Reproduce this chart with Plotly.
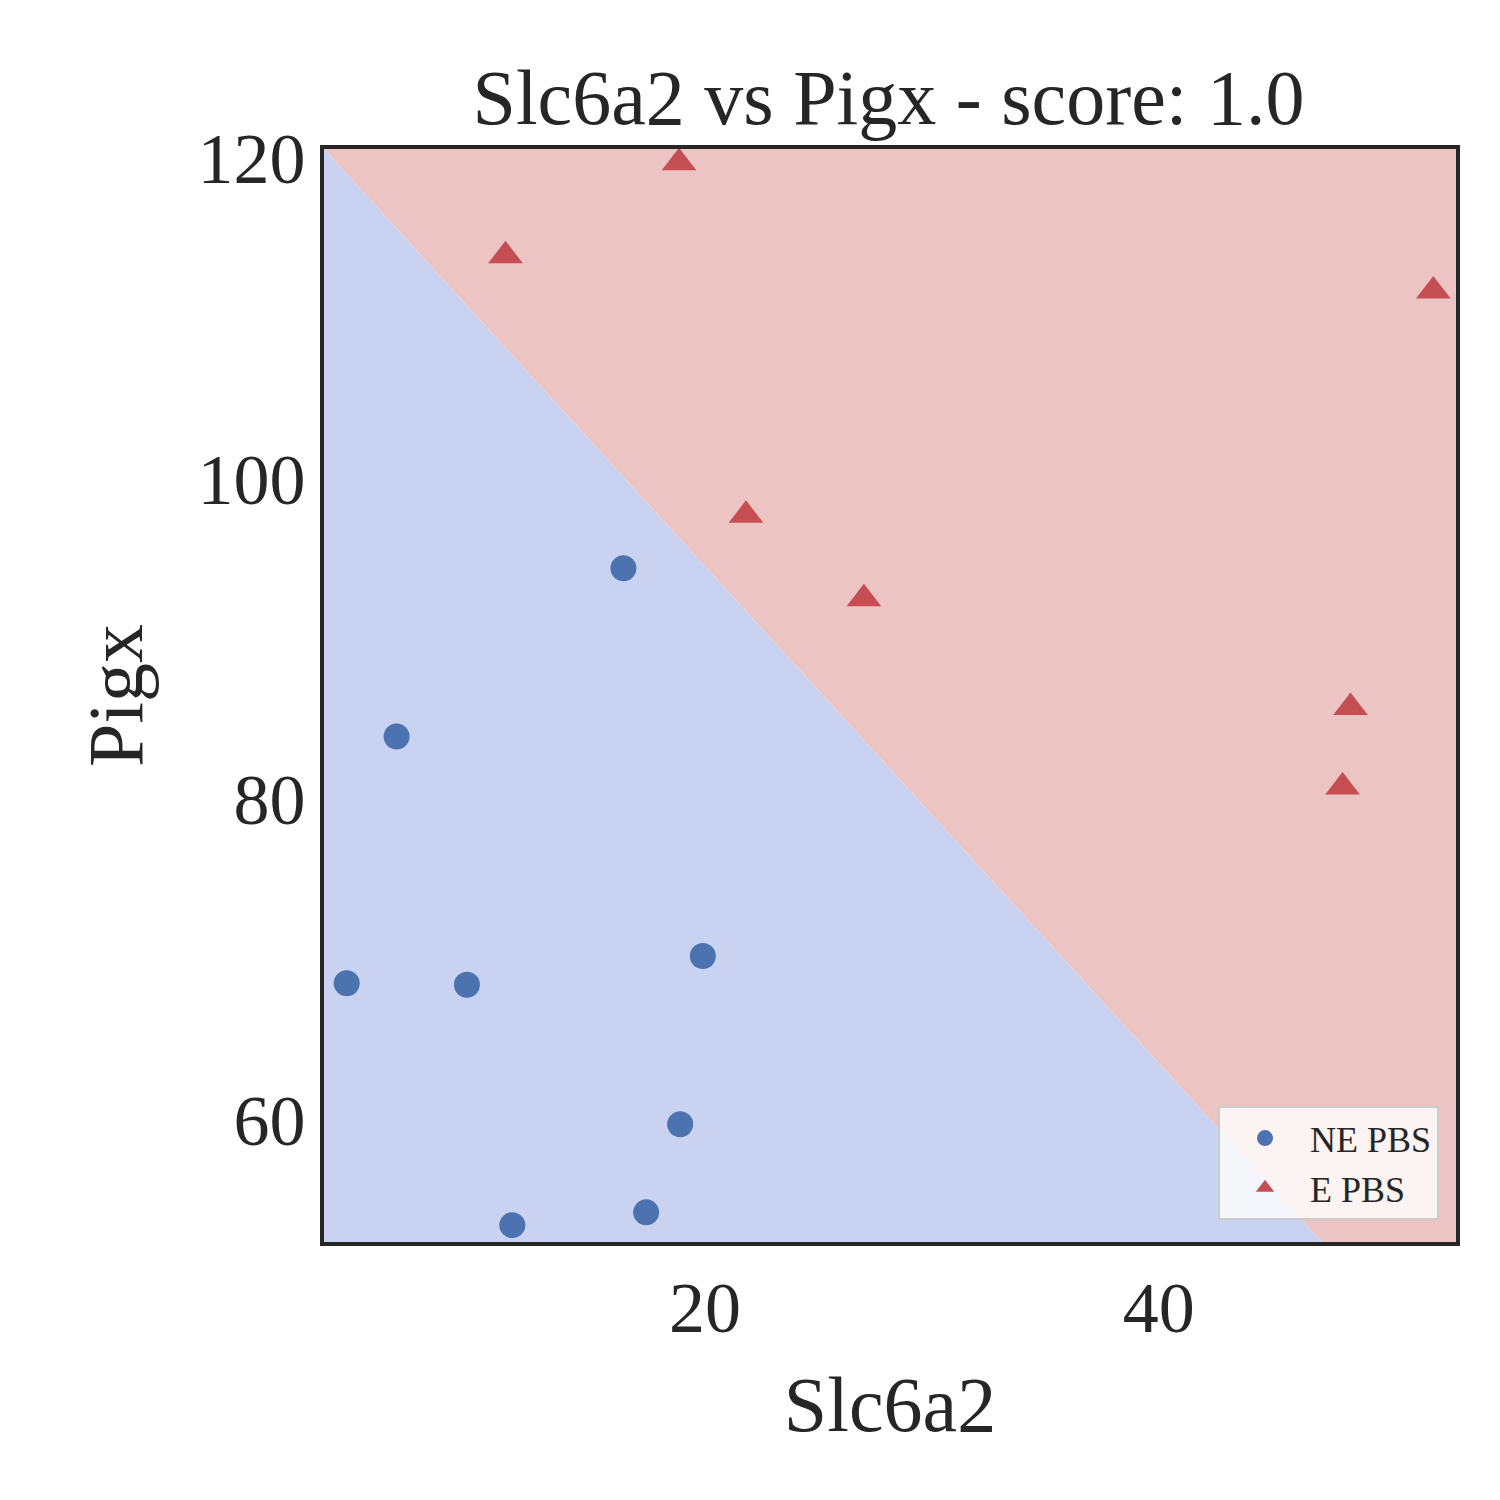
import plotly.graph_objects as go

# data
ne_x = [4.2, 6.4, 9.5, 16.4, 19.9, 18.9, 17.4, 11.5]
ne_y = [68.5, 83.9, 68.4, 94.4, 70.2, 59.7, 54.2, 53.4]
e_x = [18.85, 11.2, 52.1, 21.8, 27.0, 48.45, 48.1]
e_y = [119.7, 113.9, 111.7, 97.7, 92.5, 85.7, 80.75]

x_min, x_max = 3.2, 53.1
y_min, y_max = 52.35, 120.56
# decision boundary end points
bx = [3.2, 47.2]
by = [120.56, 52.35]

font = "Liberation Serif"
fig = go.Figure()

# shaded regions
fig.add_trace(go.Scatter(x=[x_min, bx[0], bx[1], x_min], y=[y_max, by[0], by[1], y_min],
                         fill="toself", fillcolor="#c9d2f1", line=dict(width=0),
                         mode="lines", showlegend=False, hoverinfo="skip"))
fig.add_trace(go.Scatter(x=[bx[0], x_max, x_max, bx[1]], y=[by[0], y_max, y_min, by[1]],
                         fill="toself", fillcolor="#edc4c4", line=dict(width=0),
                         mode="lines", showlegend=False, hoverinfo="skip"))

fig.add_trace(go.Scatter(x=ne_x, y=ne_y, mode="markers", name="NE PBS",
                         marker=dict(symbol="circle", size=26, color="#4c72b0")))
fig.add_trace(go.Scatter(x=e_x, y=e_y, mode="markers", name="E PBS",
                         marker=dict(symbol="triangle-up", size=30, color="#c44e52")))

fig.update_layout(
    width=1500, height=1500, plot_bgcolor="white", paper_bgcolor="white",
    margin=dict(l=316, r=52, t=141, b=266),
    font=dict(family=font, color="#262626"),
    title=dict(text="Slc6a2 vs Pigx - score: 1.0", x=0.587, xanchor="center",
               y=0.941, yanchor="middle", font=dict(size=78)),
    legend=dict(x=0.985, y=0.02, xanchor="right", yanchor="bottom",
                bgcolor="rgba(255,255,255,0.8)", bordercolor="#cccccc", borderwidth=2,
                font=dict(size=36), itemwidth=80),
)
fig.update_xaxes(range=[x_min, x_max], tickvals=[20, 40], showgrid=False, zeroline=False,
                 showline=True, linecolor="#262626", linewidth=4, mirror=True,
                 tickfont=dict(size=72), ticks="", title=dict(text="Slc6a2", font=dict(size=78), standoff=30))
fig.update_yaxes(range=[y_min, y_max], tickvals=[60, 80, 100, 120], showgrid=False, zeroline=False,
                 showline=True, linecolor="#262626", linewidth=4, mirror=True,
                 tickfont=dict(size=72), ticks="", title=dict(text="Pigx", font=dict(size=78), standoff=30))

fig.write_html("out.html")
